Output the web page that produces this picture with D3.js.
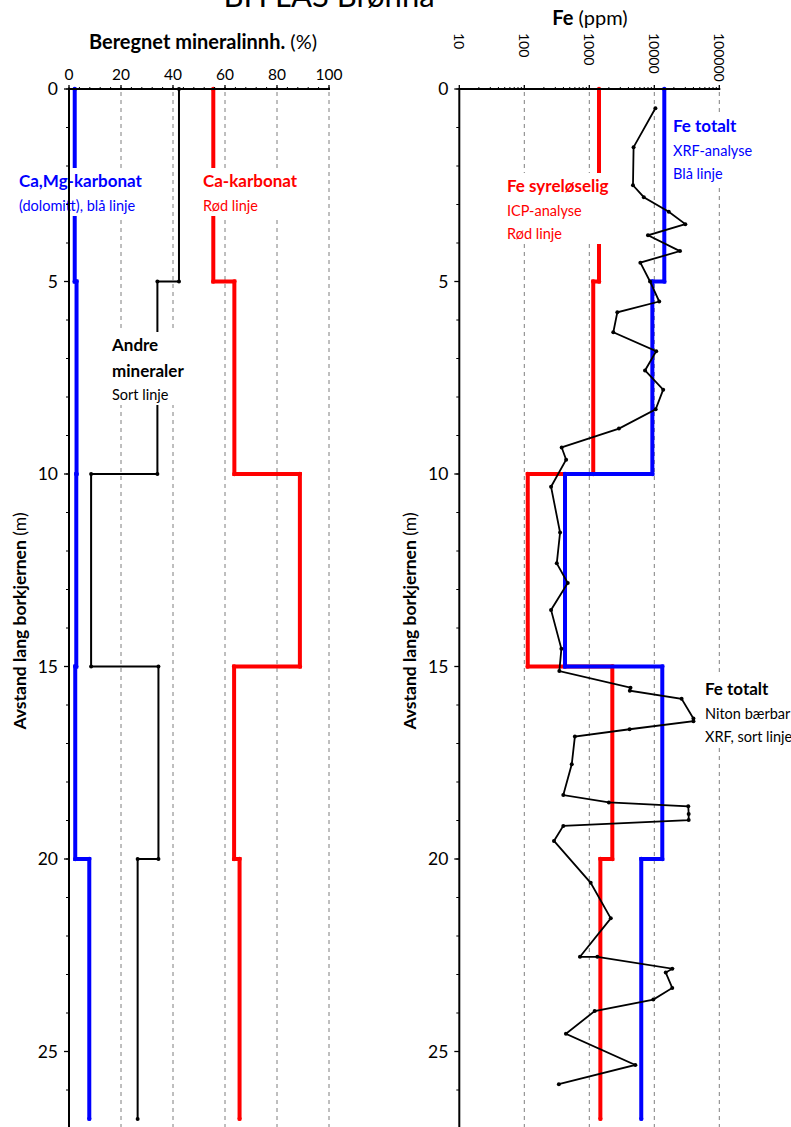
<!DOCTYPE html>
<html>
<head>
<meta charset="utf-8">
<script src="https://cdn.jsdelivr.net/npm/d3@7"></script>
<style>
  body { margin: 0; background: #fff; }
  svg { display: block; font-family: Lato, 'Open Sans', sans-serif; }
</style>
</head>
<body>
<div id="chart"></div>
<script>
// depth intervals (m) for the stepped series
let depthBreaks = [0, 5, 10, 15, 20, 26.75]

// left panel, mineral content (%)
let caMgKarbonat = [2.2, 2.9, 2.8, 2.4, 7.8]
let andreMineraler = [42.3, 34.0, 8.5, 34.4, 26.4]
let caKarbonat = [55.5, 63.6, 88.8, 63.5, 65.6]

// right panel, Fe (ppm)
let feSyreloselig = [1410, 1150, 113, 2260, 1480]
let feTotaltXRF = [14250, 9330, 423, 13270, 6300]

// Niton handheld XRF, depth (m) and Fe (ppm)
let nitonDepth = [0.5, 1.51, 2.5, 2.81, 3.19, 3.51, 3.8, 4.21, 4.51, 5.0,
  5.52, 5.8, 6.32, 6.81, 7.31, 7.81, 8.32, 8.82, 9.31, 9.63,
  10.33, 11.52, 12.32, 12.83, 13.53, 14.54, 15.12, 15.55, 15.63, 15.84,
  16.35, 16.42, 16.63, 16.82, 17.54, 18.34, 18.53, 18.63, 18.83, 18.99,
  19.14, 19.53, 20.62, 21.54, 22.54, 22.54, 22.85, 22.95, 23.35, 23.65,
  23.95, 24.54, 25.35, 25.85]
let nitonFe = [10400, 4800, 4700, 6900, 16700, 30000, 8000, 24800, 6100, 8600,
  11900, 2700, 2340, 10700, 7200, 13700, 10500, 2860, 376, 440,
  258, 355, 316, 466, 258, 372, 346, 4300, 4200, 26300,
  40000, 40000, 4170, 600, 537, 398, 2000, 33300, 33800, 33800,
  398, 286, 1050, 2140, 719, 1330, 18900, 15000, 18900, 9660,
  1210, 437, 5100, 340]

let pctTicks = [0, 20, 40, 60, 80, 100]
let ppmTicks = [10, 100, 1000, 10000, 100000]
let depthTicks = [0, 5, 10, 15, 20, 25]

let width = 791
let height = 1127
let axisTop = 89

let svg = d3
  .select('#chart')
  .append('svg')
  .attr('width', width)
  .attr('height', height)

let y = d3.scaleLinear().domain([0, 27]).range([axisTop, 1128.5])
let xPct = d3.scaleLinear().domain([0, 100]).range([69, 329])
let xPpm = d3.scaleLog().domain([10, 100000]).range([459.3, 719.3])

// turn interval values into step points
function steps(vals) {
  let pts = []
  vals.forEach((v, i) => {
    pts.push({ d: depthBreaks[i], v: v })
    pts.push({ d: depthBreaks[i + 1], v: v })
  })
  return pts
}

// title, cut off by the top edge as in the original figure
svg
  .append('text')
  .attr('x', 329)
  .attr('y', 7)
  .attr('text-anchor', 'middle')
  .attr('font-size', 31)
  .text('BH LAS Brønnå')

function panel(x, gridVals) {
  let g = svg.append('g')

  // dashed grid
  g.selectAll('.grid')
    .data(gridVals)
    .enter()
    .append('line')
    .attr('x1', d => x(d))
    .attr('x2', d => x(d))
    .attr('y1', axisTop + 3)
    .attr('y2', height)
    .attr('stroke', '#7f7f7f')
    .attr('stroke-width', 1)
    .attr('stroke-dasharray', '4,4')
  return g
}

function axes(x, ticks, minor, labelY, rotate) {
  let x0 = x.range()[0]
  let g = svg.append('g')

  // minor top ticks
  g.selectAll('.minor')
    .data(minor)
    .enter()
    .append('line')
    .attr('x1', d => x(d))
    .attr('x2', d => x(d))
    .attr('y1', axisTop)
    .attr('y2', axisTop - 2)
    .attr('stroke', 'black')
    .attr('stroke-width', 1)

  g.selectAll('.major')
    .data(ticks)
    .enter()
    .append('line')
    .attr('x1', d => x(d))
    .attr('x2', d => x(d))
    .attr('y1', axisTop)
    .attr('y2', axisTop - 4)
    .attr('stroke', 'black')
    .attr('stroke-width', 1.3)

  g.append('line')
    .attr('x1', x0)
    .attr('x2', x.range()[1] + 1)
    .attr('y1', axisTop)
    .attr('y2', axisTop)
    .attr('stroke', 'black')
    .attr('stroke-width', 2)

  // y axis
  let minorY = d3.range(0, 27.5, 1)
  g.selectAll('.yminor')
    .data(minorY)
    .enter()
    .append('line')
    .attr('x1', x0)
    .attr('x2', x0 - 3)
    .attr('y1', d => y(d))
    .attr('y2', d => y(d))
    .attr('stroke', 'black')
    .attr('stroke-width', 1)

  g.selectAll('.ymajor')
    .data(depthTicks)
    .enter()
    .append('line')
    .attr('x1', x0)
    .attr('x2', x0 - 5)
    .attr('y1', d => y(d))
    .attr('y2', d => y(d))
    .attr('stroke', 'black')
    .attr('stroke-width', 1.3)

  g.append('line')
    .attr('x1', x0)
    .attr('x2', x0)
    .attr('y1', axisTop - 1)
    .attr('y2', height)
    .attr('stroke', 'black')
    .attr('stroke-width', 2)

  g.selectAll('.ylab')
    .data(depthTicks)
    .enter()
    .append('text')
    .attr('x', x0 - 11)
    .attr('y', d => y(d))
    .attr('dy', '0.36em')
    .attr('text-anchor', 'end')
    .attr('font-size', 17.5)
    .text(d => d)

  if (rotate) {
    g.selectAll('.xlab')
      .data(ticks)
      .enter()
      .append('text')
      .attr('transform', d => `translate(${x(d)},33) rotate(90)`)
      .attr('dy', '0.35em')
      .attr('font-size', 14)
      .text(d => d)
  } else {
    g.selectAll('.xlab')
      .data(ticks)
      .enter()
      .append('text')
      .attr('x', d => x(d))
      .attr('y', labelY)
      .attr('text-anchor', 'middle')
      .attr('font-size', 15.5)
      .text(d => d)
  }
}

function stepLine(g, x, vals, color, w, r) {
  let pts = steps(vals)
  let line = d3
    .line()
    .x(d => x(d.v))
    .y(d => y(d.d))
  g.append('path')
    .datum(pts)
    .attr('d', line)
    .attr('fill', 'none')
    .attr('stroke', color)
    .attr('stroke-width', w)
  g.selectAll(null)
    .data(pts)
    .enter()
    .append('circle')
    .attr('cx', d => x(d.v))
    .attr('cy', d => y(d.d))
    .attr('r', r)
    .attr('fill', color)
}

function label(lines, x0, y0, color) {
  let g = svg.append('g')
  let bg = g.append('rect').attr('fill', 'white')
  lines.forEach(l => {
    g.append('text')
      .attr('x', x0)
      .attr('y', y0 + l.dy)
      .attr('font-size', l.bold ? 17 : 14.5)
      .attr('font-weight', l.bold ? 'bold' : 'normal')
      .attr('fill', color)
      .text(l.t)
  })
  let bb = g.node().getBBox()
  bg.attr('x', bb.x - 2)
    .attr('y', bb.y - 2)
    .attr('width', bb.width + 4)
    .attr('height', bb.height + 4)
}

// ---- left panel
let gl = panel(xPct, [20, 40, 60, 80, 100])
stepLine(gl, xPct, caMgKarbonat, '#0000ff', 4, 2.2)
stepLine(gl, xPct, andreMineraler, 'black', 2, 2)
stepLine(gl, xPct, caKarbonat, '#ff0000', 4, 2.2)

// ---- right panel
let gr = panel(xPpm, [100, 1000, 10000, 100000])
stepLine(gr, xPpm, feSyreloselig, '#ff0000', 4, 2.2)
stepLine(gr, xPpm, feTotaltXRF, '#0000ff', 4, 2.2)

let niton = nitonDepth.map((d, i) => ({ d: d, v: nitonFe[i] }))
gr.append('path')
  .datum(niton)
  .attr('d', d3.line().x(d => xPpm(d.v)).y(d => y(d.d)))
  .attr('fill', 'none')
  .attr('stroke', 'black')
  .attr('stroke-width', 1.8)
gr.selectAll(null)
  .data(niton)
  .enter()
  .append('circle')
  .attr('cx', d => xPpm(d.v))
  .attr('cy', d => y(d.d))
  .attr('r', 2)
  .attr('fill', 'black')

// labels
label([{ t: 'Ca,Mg-karbonat', bold: true, dy: 0 }, { t: '(dolomitt), blå linje', dy: 24 }], 19, 187, '#0000ff')
label([{ t: 'Ca-karbonat', bold: true, dy: 0 }, { t: 'Rød linje', dy: 24 }], 203, 187, '#ff0000')
label([{ t: 'Andre', bold: true, dy: 0 }, { t: 'mineraler', bold: true, dy: 26 }, { t: 'Sort linje', dy: 49 }], 112, 351, 'black')
label([{ t: 'Fe totalt', bold: true, dy: 0 }, { t: 'XRF-analyse', dy: 24 }, { t: 'Blå linje', dy: 47 }], 673, 132, '#0000ff')
label([{ t: 'Fe syreløselig', bold: true, dy: 0 }, { t: 'ICP-analyse', dy: 24 }, { t: 'Rød linje', dy: 47 }], 507, 192, '#ff0000')
label([{ t: 'Fe totalt', bold: true, dy: 0 }, { t: 'Niton bærbar', dy: 24 }, { t: 'XRF, sort linje', dy: 47 }], 705, 695, 'black')

// axes on top
let pctMinor = d3.range(0, 101, 4)
let ppmMinor = []
ppmTicks.slice(0, -1).forEach(t => {
  for (let k = 2; k < 10; k++) ppmMinor.push(t * k)
})
axes(xPct, pctTicks, pctMinor, 80, false)
axes(xPpm, ppmTicks, ppmMinor, 0, true)

// axis titles
let t1 = svg.append('text').attr('x', 203).attr('y', 49).attr('text-anchor', 'middle').attr('font-size', 20)
t1.append('tspan').attr('font-weight', 'bold').text('Beregnet mineralinnh.')
t1.append('tspan').text(' (%)')

let t2 = svg.append('text').attr('x', 590).attr('y', 25).attr('text-anchor', 'middle').attr('font-size', 20)
t2.append('tspan').attr('font-weight', 'bold').text('Fe')
t2.append('tspan').text(' (ppm)')

;[26, 416].forEach(xx => {
  let t = svg
    .append('text')
    .attr('transform', `translate(${xx},621) rotate(-90)`)
    .attr('text-anchor', 'middle')
    .attr('font-size', 17.5)
  t.append('tspan').attr('font-weight', 'bold').text('Avstand lang borkjernen')
  t.append('tspan').text(' (m)')
})
</script>
</body>
</html>
